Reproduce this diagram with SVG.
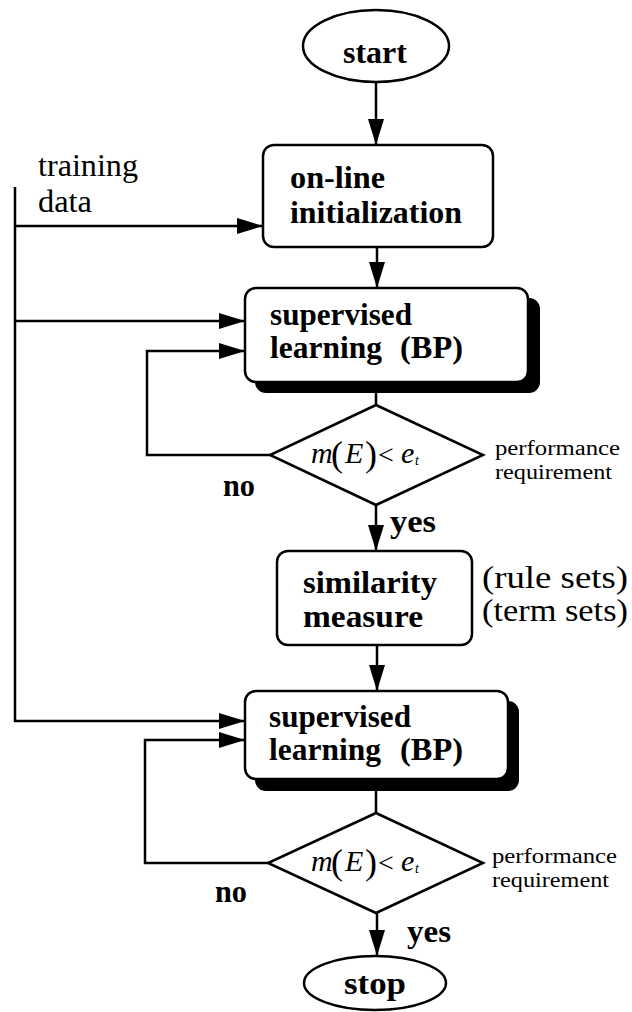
<svg xmlns="http://www.w3.org/2000/svg" width="632" height="1012" viewBox="0 0 632 1012">
<style>
.ln{fill:none;stroke:#000;stroke-width:2.5}
.nd{fill:#fff;stroke:#000;stroke-width:2.5}
.sh{fill:#000;stroke:none}
.b{font-family:"Liberation Serif","Times New Roman",serif;font-weight:bold;font-size:31px;fill:#000}
.r{font-family:"Liberation Serif","Times New Roman",serif;font-size:31px;fill:#000}
.s{font-family:"Liberation Serif","Times New Roman",serif;font-size:20px;fill:#000}
.i{font-family:"Liberation Serif","Times New Roman",serif;font-style:italic;font-size:30px;fill:#000}
.p{font-family:"Liberation Serif","Times New Roman",serif;font-size:36px;fill:#000}
.lt{font-family:"Liberation Serif","Times New Roman",serif;font-size:28px;fill:#000}
.sub{font-family:"Liberation Serif","Times New Roman",serif;font-style:italic;font-size:14px;fill:#000}
</style>
<defs>
<marker id="ah" markerUnits="userSpaceOnUse" markerWidth="26" markerHeight="16" refX="26" refY="8" orient="auto">
<path d="M0,0 L26,8 L0,16 z" fill="#000"/>
</marker>
</defs>
<g id="connectors">
<line class="ln" x1="376" y1="82" x2="376" y2="145" marker-end="url(#ah)"/>
<line class="ln" x1="377" y1="247" x2="377" y2="288" marker-end="url(#ah)"/>
<polyline class="ln" points="15,187 15,721 245,721" marker-end="url(#ah)"/>
<line class="ln" x1="15" y1="226" x2="263" y2="226" marker-end="url(#ah)"/>
<line class="ln" x1="15" y1="321" x2="245" y2="321" marker-end="url(#ah)"/>
<line class="ln" x1="376" y1="392" x2="376" y2="405"/>
<polyline class="ln" points="270,455 147,455 147,351 245,351" marker-end="url(#ah)"/>
<line class="ln" x1="376" y1="505" x2="376" y2="551" marker-end="url(#ah)"/>
<line class="ln" x1="377" y1="645" x2="377" y2="691" marker-end="url(#ah)"/>
<line class="ln" x1="376" y1="790" x2="376" y2="813"/>
<polyline class="ln" points="268,863 145,863 145,740 245,740" marker-end="url(#ah)"/>
<line class="ln" x1="377" y1="913" x2="377" y2="956" marker-end="url(#ah)"/>
</g>
<g id="start">
<ellipse class="nd" cx="376" cy="46" rx="73" ry="36"/>
<text class="b" x="343" y="63" textLength="64" lengthAdjust="spacingAndGlyphs">start</text>
</g>
<g id="training-data">
<text class="r" x="38" y="176" textLength="100" lengthAdjust="spacingAndGlyphs">training</text>
<text class="r" x="38" y="212" textLength="54" lengthAdjust="spacingAndGlyphs">data</text>
</g>
<g id="online-init">
<rect class="nd" x="263" y="145" width="230" height="102" rx="11"/>
<text class="b" x="290" y="188" textLength="95" lengthAdjust="spacingAndGlyphs">on-line</text>
<text class="b" x="290" y="223" textLength="172" lengthAdjust="spacingAndGlyphs">initialization</text>
</g>
<g id="supervised1">
<rect class="sh" x="255" y="298" width="285" height="95" rx="11"/>
<rect class="nd" x="245" y="288" width="283" height="94" rx="11"/>
<text class="b" x="270" y="325" textLength="142" lengthAdjust="spacingAndGlyphs">supervised</text>
<text class="b" x="270" y="358" textLength="112" lengthAdjust="spacingAndGlyphs">learning</text>
<text class="b" x="400" y="358" textLength="63" lengthAdjust="spacingAndGlyphs">(BP)</text>
</g>
<g id="decision1">
<polygon class="nd" points="376,405 483,455 376,505 270,455"/>
<text class="i" x="311" y="463">m</text>
<text class="p" x="331" y="466">(</text>
<text class="i" x="345" y="463">E</text>
<text class="p" x="365" y="466">)</text>
<text class="lt" x="378" y="464">&lt;</text>
<text class="i" x="401" y="463">e</text>
<text class="sub" x="415" y="465">t</text>
<text class="s" x="495" y="455" textLength="125" lengthAdjust="spacingAndGlyphs">performance</text>
<text class="s" x="495" y="479" textLength="117" lengthAdjust="spacingAndGlyphs">requirement</text>
<text class="b" x="223" y="496" textLength="32" lengthAdjust="spacingAndGlyphs">no</text>
<text class="b" x="390" y="532" textLength="46" lengthAdjust="spacingAndGlyphs">yes</text>
</g>
<g id="similarity">
<rect class="nd" x="277" y="551" width="195" height="94" rx="11"/>
<text class="b" x="303" y="593" textLength="134" lengthAdjust="spacingAndGlyphs">similarity</text>
<text class="b" x="303" y="627" textLength="120" lengthAdjust="spacingAndGlyphs">measure</text>
<text class="r" x="482" y="588" textLength="146" lengthAdjust="spacingAndGlyphs">(rule sets)</text>
<text class="r" x="482" y="621" textLength="146" lengthAdjust="spacingAndGlyphs">(term sets)</text>
</g>
<g id="supervised2">
<rect class="sh" x="255" y="701" width="264" height="90" rx="11"/>
<rect class="nd" x="245" y="691" width="263" height="88" rx="11"/>
<text class="b" x="269" y="727" textLength="142" lengthAdjust="spacingAndGlyphs">supervised</text>
<text class="b" x="269" y="760" textLength="112" lengthAdjust="spacingAndGlyphs">learning</text>
<text class="b" x="400" y="760" textLength="63" lengthAdjust="spacingAndGlyphs">(BP)</text>
</g>
<g id="decision2">
<polygon class="nd" points="376,813 483,863 376,913 268,863"/>
<text class="i" x="311" y="871">m</text>
<text class="p" x="331" y="874">(</text>
<text class="i" x="345" y="871">E</text>
<text class="p" x="365" y="874">)</text>
<text class="lt" x="378" y="872">&lt;</text>
<text class="i" x="401" y="871">e</text>
<text class="sub" x="415" y="873">t</text>
<text class="s" x="492" y="863" textLength="125" lengthAdjust="spacingAndGlyphs">performance</text>
<text class="s" x="492" y="887" textLength="117" lengthAdjust="spacingAndGlyphs">requirement</text>
<text class="b" x="215" y="902" textLength="32" lengthAdjust="spacingAndGlyphs">no</text>
<text class="b" x="407" y="942" textLength="44" lengthAdjust="spacingAndGlyphs">yes</text>
</g>
<g id="stop">
<ellipse class="nd" cx="375" cy="983" rx="71" ry="27"/>
<text class="b" x="375" y="994" text-anchor="middle" textLength="62" lengthAdjust="spacingAndGlyphs">stop</text>
</g>
</svg>
